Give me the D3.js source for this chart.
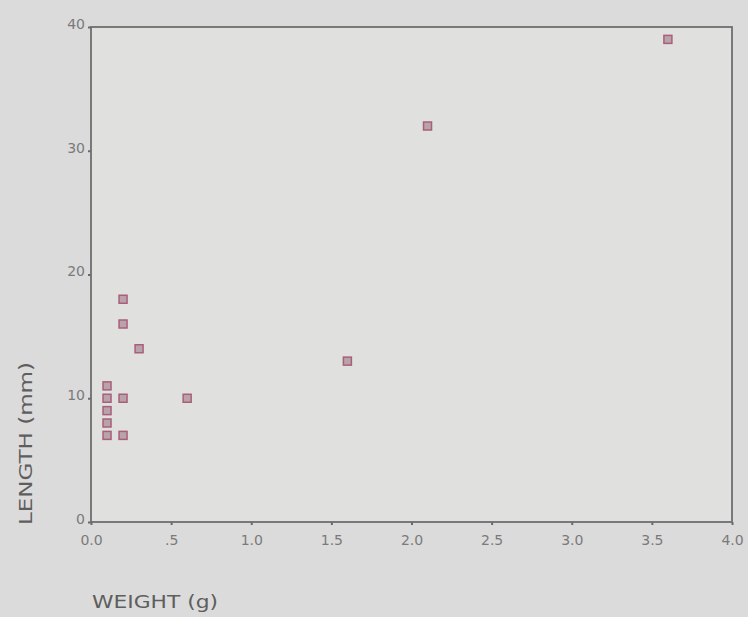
<!DOCTYPE html>
<html><head><meta charset="utf-8">
<script src="https://cdn.jsdelivr.net/npm/d3@7"></script>
<style>
html,body{margin:0;padding:0;background:#dcdbdb;}
svg{display:block;}
</style></head>
<body>
<svg id="c" width="748" height="617"></svg>
<script>
const weight = [0.1, 0.1, 0.1, 0.1, 0.1, 0.2, 0.2, 0.2, 0.2, 0.3, 0.6, 1.6, 2.1, 3.6];
const length = [11, 10, 9, 8, 7, 18, 16, 10, 7, 14, 10, 13, 32, 39];
const xTicks = [0, 0.5, 1.0, 1.5, 2.0, 2.5, 3.0, 3.5, 4.0];
const xTickLabels = ["0.0", ".5", "1.0", "1.5", "2.0", "2.5", "3.0", "3.5", "4.0"];
const yTicks = [0, 10, 20, 30, 40];
const xTitle = "WEIGHT (g)";
const yTitle = "LENGTH (mm)";

const svg = d3.select("#c");
const W = 748, H = 617;
svg.append("rect").attr("width", W).attr("height", H).attr("fill", "#dcdbdb");

const L = 91, R = 732, T = 27, B = 522;
const x = d3.scaleLinear().domain([0, 4]).range([L, R]);
const y = d3.scaleLinear().domain([0, 40]).range([B, T]);

svg.append("rect").attr("x", L).attr("y", T).attr("width", R - L).attr("height", B - T)
  .attr("fill", "#e0e0df");

const font = "'DejaVu Sans', Verdana, sans-serif";

const xAxis = svg.append("g").attr("transform", `translate(0,${B})`)
  .call(d3.axisBottom(x).tickValues(xTicks).tickFormat((d, i) => xTickLabels[i]).tickSize(3).tickPadding(10));
const yAxis = svg.append("g").attr("transform", `translate(${L},0)`)
  .call(d3.axisLeft(y).tickValues(yTicks).tickSize(3).tickPadding(3));

[xAxis, yAxis].forEach(g => {
  g.select(".domain").remove();
  g.selectAll(".tick line").attr("stroke", "#6a6a6a").attr("stroke-width", 2);
  g.selectAll("text").attr("fill", "#7a7a7a").style("font-family", font).style("font-size", "14px");
});
yAxis.selectAll("text").attr("dy", "0.1em");

// frame
svg.append("rect").attr("x", L).attr("y", T).attr("width", R - L).attr("height", B - T)
  .attr("fill", "none").attr("stroke", "#6e6e6e").attr("stroke-width", 1.8);

// points
const pts = weight.map((w, i) => ({ w, l: length[i] }));
const s = 8;
svg.append("g").selectAll("rect").data(pts).join("rect")
  .attr("x", d => x(d.w) - s / 2).attr("y", d => y(d.l) - s / 2)
  .attr("width", s).attr("height", s)
  .attr("fill", "#b9a2aa").attr("stroke", "#a8607a").attr("stroke-width", 1.5);

svg.append("text").attr("x", 92).attr("y", 608).text(xTitle)
  .attr("textLength", 126).attr("lengthAdjust", "spacingAndGlyphs")
  .attr("fill", "#5e5e5e").style("font-family", font).style("font-size", "17px");
svg.append("text").attr("transform", "translate(32,525) rotate(-90)").text(yTitle)
  .attr("textLength", 163).attr("lengthAdjust", "spacingAndGlyphs")
  .attr("fill", "#5e5e5e").style("font-family", font).style("font-size", "17px");
</script>
</body></html>
